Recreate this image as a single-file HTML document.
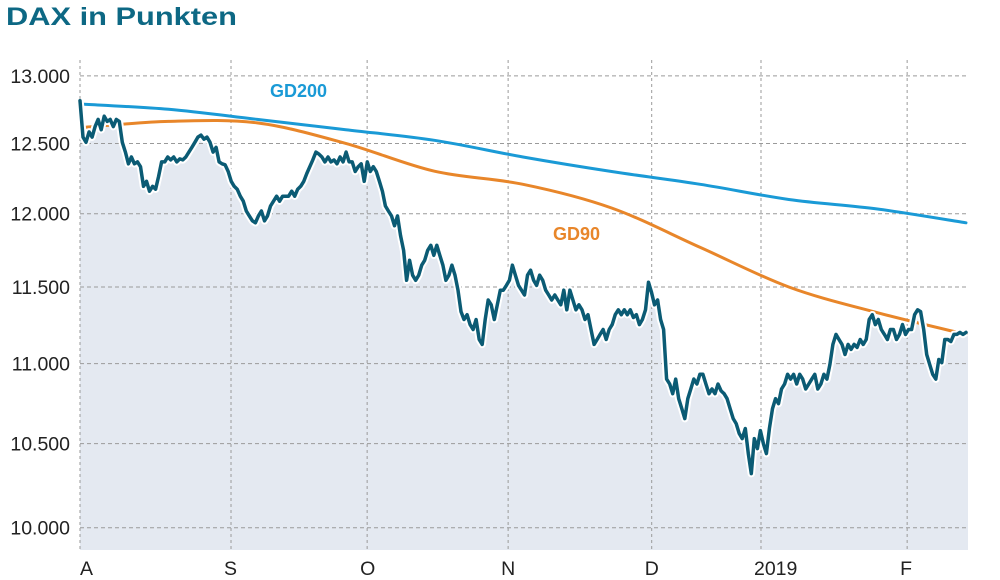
<!DOCTYPE html>
<html><head><meta charset="utf-8"><style>
html,body{margin:0;padding:0;background:#fff;width:1000px;height:580px;overflow:hidden}
svg{display:block}
text{font-family:"Liberation Sans","DejaVu Sans",sans-serif}
</style></head><body>
<svg id="c" width="1000" height="580">
<text x="6" y="25" font-size="25" font-weight="bold" fill="#0d6884" textLength="231" lengthAdjust="spacingAndGlyphs">DAX in Punkten</text>
</svg>
<script>
const yTicks=[10000,10500,11000,11500,12000,12500,13000];
const yTickLabels=["10.000","10.500","11.000","11.500","12.000","12.500","13.000"];
const monthLabels=["A","S","O","N","D","2019","F"];
const monthIdx=[0,23.35,44.4,66.2,88.4,105.3,127.9];
const dax=[12814,12546,12508,12584,12546,12623,12676,12600,12699,12661,12676,12623,12676,12661,12508,12437,12353,12402,12353,12367,12332,12193,12228,12158,12193,12172,12263,12367,12367,12402,12381,12402,12367,12388,12381,12402,12437,12472,12508,12546,12561,12531,12546,12508,12437,12472,12367,12353,12346,12298,12228,12193,12172,12123,12088,12019,11985,11951,11937,11985,12019,11951,11985,12054,12088,12123,12088,12123,12123,12123,12158,12123,12172,12193,12228,12284,12332,12381,12437,12423,12402,12367,12402,12367,12381,12353,12402,12367,12437,12367,12367,12298,12332,12353,12228,12367,12298,12332,12298,12228,12158,12054,12019,11985,11917,11985,11850,11748,11545,11680,11579,11545,11579,11647,11680,11748,11782,11714,11782,11714,11647,11545,11579,11647,11579,11479,11337,11285,11317,11252,11220,11285,11155,11123,11285,11414,11382,11285,11382,11479,11479,11511,11545,11647,11579,11511,11479,11447,11579,11613,11545,11511,11579,11545,11479,11447,11414,11447,11414,11382,11479,11349,11479,11414,11349,11382,11349,11285,11317,11220,11123,11155,11188,11220,11155,11220,11252,11317,11349,11317,11349,11317,11349,11298,11317,11252,11285,11349,11532,11465,11382,11414,11285,11220,10901,10870,10809,10901,10778,10716,10654,10778,10839,10901,10870,10932,10932,10870,10809,10839,10809,10870,10827,10809,10778,10716,10654,10623,10562,10531,10593,10440,10319,10531,10470,10580,10500,10440,10593,10716,10778,10747,10839,10870,10932,10901,10932,10870,10932,10901,10839,10870,10901,10932,10839,10870,10932,10901,10994,11123,11188,11155,11123,11058,11123,11091,11123,11104,11155,11123,11155,11285,11317,11252,11285,11220,11188,11155,11220,11220,11155,11188,11252,11188,11220,11220,11317,11349,11337,11220,11058,10994,10932,10901,11026,11006,11155,11155,11142,11188,11188,11201,11188,11201];
const gd200=[12790,12750,12676,12600,12523,12402,12298,12207,12100,12033,11937];
const gd90=[12615,12661,12650,12500,12300,12207,12040,11768,11500,11330,11188];
const X0=80,X1=966,PB=550;
const nDays=138;
function yScale(v){return 527.7-(Math.log(v)-Math.log(10000))*1722;}
function xDay(i){return X0+(X1-X0)*i/(nDays-1);}
function xSeries(i,n){return X0+(X1-X0)*i/(n-1);}
const svg=document.getElementById('c');const NS="http://www.w3.org/2000/svg";
function el(t,a,p){const e=document.createElementNS(NS,t);for(const k in a)e.setAttribute(k,a[k]);(p||svg).appendChild(e);return e;}
let fp="M"+xSeries(0,dax.length)+","+PB;
dax.forEach((v,i)=>{fp+=" L"+xSeries(i,dax.length).toFixed(1)+","+yScale(v).toFixed(1);});
fp+=" L968,"+yScale(dax[dax.length-1]).toFixed(1)+" L968,"+PB+"Z";
const fill=el('path',{d:fp,fill:'#e4e9f1'});


yTicks.forEach((t,i)=>{const y=yScale(t);
const g=el('line',{x1:X0,x2:968,y1:y,y2:y,stroke:'#9a9a9a','stroke-width':1,'stroke-dasharray':'4,3'});


const tx=el('text',{x:70,y:y+7,'text-anchor':'end','font-size':19.5,fill:'#222'});tx.textContent=yTickLabels[i];

});
monthIdx.forEach((d,i)=>{const x=xDay(d);
const g=el('line',{x1:x,x2:x,y1:60,y2:PB,stroke:'#9a9a9a','stroke-width':1,'stroke-dasharray':'3,3'});


const tx=el('text',{x:i===0?x:x-7,y:575,'font-size':19.5,fill:'#222'});tx.textContent=monthLabels[i];

});
function smoothPath(pts){let d="M"+pts[0][0].toFixed(1)+","+pts[0][1].toFixed(1);
for(let i=0;i<pts.length-1;i++){const p0=pts[Math.max(0,i-1)],p1=pts[i],p2=pts[i+1],p3=pts[Math.min(pts.length-1,i+2)];
const c1=[p1[0]+(p2[0]-p0[0])/6,p1[1]+(p2[1]-p0[1])/6],c2=[p2[0]-(p3[0]-p1[0])/6,p2[1]-(p3[1]-p1[1])/6];
d+=" C"+c1[0].toFixed(1)+","+c1[1].toFixed(1)+" "+c2[0].toFixed(1)+","+c2[1].toFixed(1)+" "+p2[0].toFixed(1)+","+p2[1].toFixed(1);}
return d;}
function line(arr,color,w,name,halo,smooth){let d="";
if(smooth){d=smoothPath(arr.map((v,i)=>[xSeries(i,arr.length),yScale(v)]));}
else arr.forEach((v,i)=>{d+=(i?" L":"M")+xSeries(i,arr.length).toFixed(1)+","+yScale(v).toFixed(1);});
if(halo){const h=el('path',{d:d,fill:'none',stroke:'#fff','stroke-width':w+4,'stroke-linejoin':'round'});

}
const p=el('path',{d:d,fill:'none',stroke:color,'stroke-width':w,'stroke-linejoin':'round','stroke-linecap':'round'});

}
line(gd200,'#1a9ad6',3,'gd200-line',false,true);
line(gd90,'#e8862a',3,'gd90-line',false,true);
line(dax,'#0b5b74',3.5,'dax-line',true,false);
const l1=el('text',{x:270,y:97,'font-size':18,'font-weight':'bold',fill:'#1a9ad6'});l1.textContent="GD200";


const l2=el('text',{x:553,y:240,'font-size':18,'font-weight':'bold',fill:'#e8862a'});l2.textContent="GD90";


</script>
</body></html>
